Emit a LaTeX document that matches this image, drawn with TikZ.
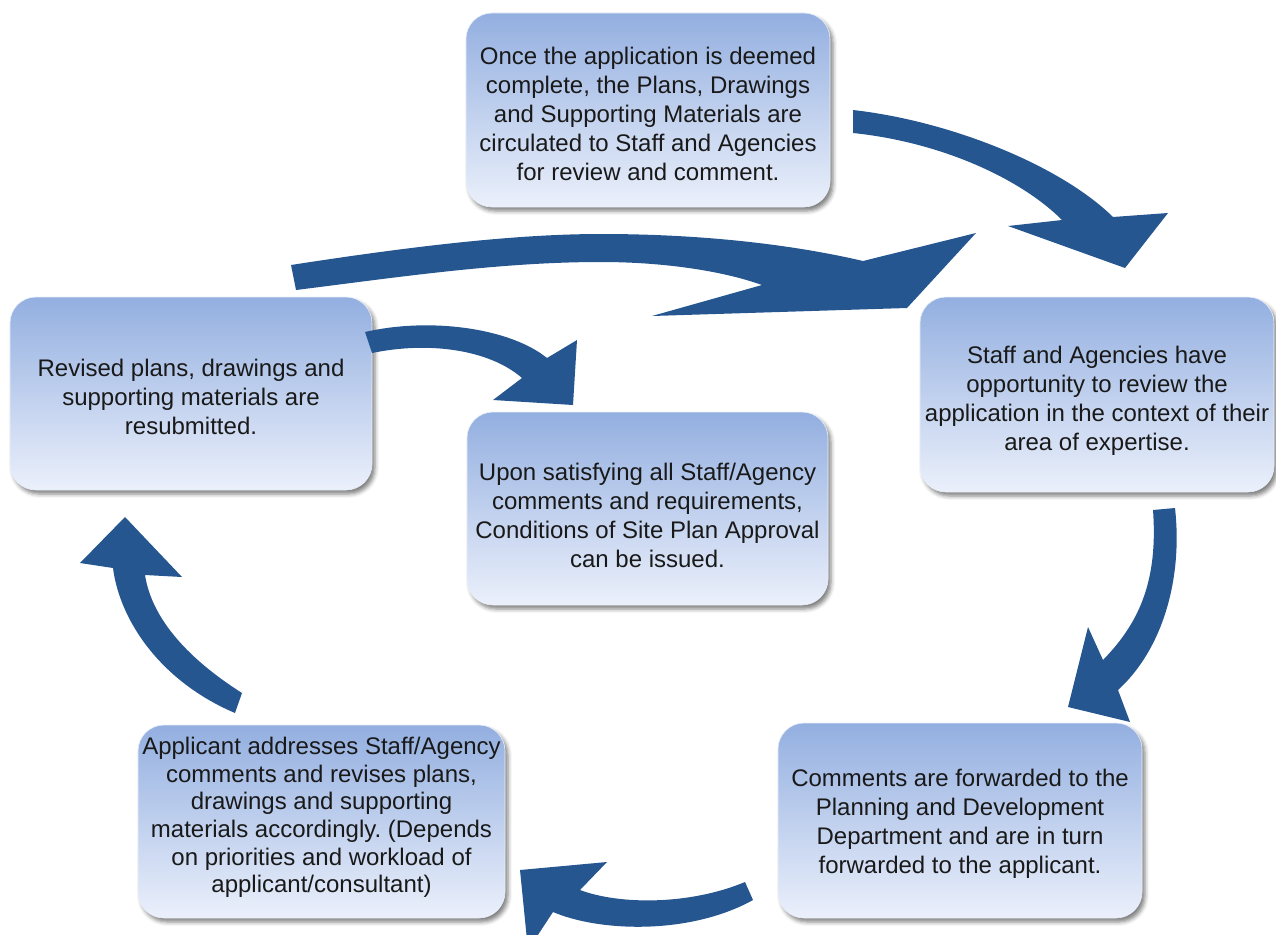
\documentclass[tikz,border=0pt]{standalone}
\usepackage{fontspec}
\setmainfont{Liberation Sans}
\usetikzlibrary{shadows.blur}
\frenchspacing
\definecolor{boxtop}{RGB}{147,175,224}
\definecolor{boxbot}{RGB}{235,240,251}
\definecolor{arr}{RGB}{37,86,144}
\definecolor{txtcol}{RGB}{25,25,25}
\tikzset{
  stepbox/.style={rounded corners=26pt, top color=boxtop, bottom color=boxbot,
    draw=white!80!boxtop, line width=0.6pt,
    blur shadow={shadow xshift=3pt, shadow yshift=-4pt, shadow blur radius=4pt, shadow opacity=50},
    inner sep=0pt},
  steptext/.style={align=center, inner sep=0pt, text=txtcol, font=\fontsize{24}{29}\selectfont},
  blockarrow/.style={fill=arr, draw=none}
}
\begin{document}
\begin{tikzpicture}[x=1pt,y=-1pt]
\useasboundingbox (0,0) rectangle (1276,934);

% boxes
\node[stepbox, minimum width=364pt, minimum height=194pt] (circ) at (648,110) {};
\node[stepbox, minimum width=362pt, minimum height=193pt] (resub) at (191,393.5) {};
\node[stepbox, minimum width=354pt, minimum height=195pt] (review) at (1097,394.5) {};
\node[stepbox, minimum width=361pt, minimum height=193pt] (approve) at (647.5,508.5) {};
\node[stepbox, minimum width=367pt, minimum height=193pt] (addr) at (321.5,821.5) {};
\node[stepbox, minimum width=364pt, minimum height=195pt] (fwd) at (960,820.5) {};

% texts
\node[steptext, yshift=-4pt] (circt) at (circ.center)
  {Once the application is deemed\\complete, the Plans, Drawings\\and Supporting Materials are\\circulated to Staff and Agencies\\for review and comment.};
\node[steptext, yshift=-3pt] (resubt) at (resub.center)
  {Revised plans, drawings and\\supporting materials are\\resubmitted.};
\node[steptext, yshift=-6pt] (reviewt) at (review.center)
  {Staff and Agencies have\\opportunity to review the\\application in the context of their\\area of expertise.};
\node[steptext, yshift=-7pt] (approvet) at (approve.center)
  {Upon satisfying all Staff/Agency\\comments and requirements,\\Conditions of Site Plan Approval\\can be issued.};
\node[steptext, yshift=4pt, font=\fontsize{24}{27.6}\selectfont] (addrt) at (addr.center)
  {Applicant addresses Staff/Agency\\comments and revises plans,\\drawings and supporting\\materials accordingly. (Depends\\on priorities and workload of\\applicant/consultant)};
\node[steptext, yshift=-3pt] (fwdt) at (fwd.center)
  {Comments are forwarded to the\\Planning and Development\\Department and are in turn\\forwarded to the applicant.};

% arrow: circulate -> review
\fill[blockarrow] (853,110) .. controls (950,121) and (1060,165) .. (1113,217)
  -- (1168,213) -- (1125,268) -- (1008,226) -- (1062,220)
  .. controls (1020,178) and (940,142) .. (853,133) -- cycle;

% arrow: resubmit -> review (big)
\fill[blockarrow] (291,265) .. controls (420,245) and (520,234) .. (601,234)
  .. controls (700,234) and (790,244) .. (863,261)
  -- (976,233) -- (907,308) -- (652,316) -- (762,285)
  .. controls (720,270) and (660,262) .. (601,262)
  .. controls (500,262) and (400,277) .. (296,290) -- cycle;

% arrow: resubmit -> approve
\fill[blockarrow] (365,332) .. controls (430,317) and (510,328) .. (547,358)
  -- (577,340) -- (573,405) -- (493,400) -- (522,378)
  .. controls (490,350) and (430,341) .. (372,353) -- cycle;

% arrow: review -> forward
\fill[blockarrow] (1175,508) .. controls (1183,580) and (1162,650) .. (1118,690)
  -- (1130,722) -- (1068,707) -- (1088,627) -- (1103,660)
  .. controls (1140,622) and (1158,580) .. (1153,510) -- cycle;

% arrow: forward -> address
\fill[blockarrow] (745,882) .. controls (690,905) and (620,905) .. (580,890)
  -- (607,862) -- (520,870) -- (528,950) -- (553,912)
  .. controls (600,932) and (690,935) .. (753,900) -- cycle;

% arrow: address -> resubmit
\fill[blockarrow] (242,693) .. controls (190,660) and (152,620) .. (145,575)
  -- (182,577) -- (125,517) -- (80,563) -- (113,568)
  .. controls (120,622) and (162,682) .. (235,713) -- cycle;
\end{tikzpicture}
\end{document}
